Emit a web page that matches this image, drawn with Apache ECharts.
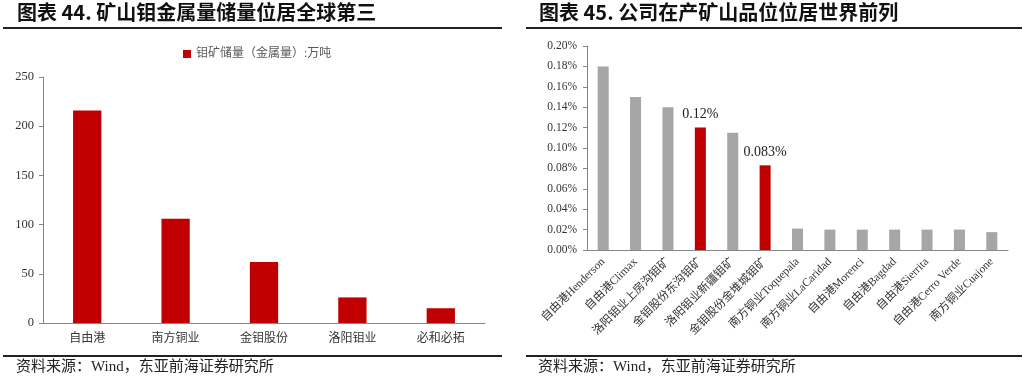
<!DOCTYPE html>
<html>
<head>
<meta charset="utf-8">
<script src="https://cdn.jsdelivr.net/npm/echarts@6/dist/echarts.min.js"></script>
<style>
  html, body { margin: 0; padding: 0; background: #fff; }
  #chart { width: 1025px; height: 376px; }
</style>
</head>
<body>
<div id="chart"></div>
<script>
// left: molybdenum reserves (metal content), 10k tonnes
const reserveCompanies = ['自由港', '南方铜业', '金钼股份', '洛阳钼业', '必和必拓'];
const reserveValues = [216, 106, 62, 26, 15];

// right: mine grade, %
const mineNames = [
  '自由港Henderson', '自由港Climax', '洛阳钼业上房沟钼矿', '金钼股份东沟钼矿',
  '洛阳钼业新疆钼矿', '金钼股份金堆城钼矿', '南方铜业Toquepala', '南方铜业LaCaridad',
  '自由港Morenci', '自由港Bagdad', '自由港Sierrita', '自由港Cerro Verde', '南方铜业Cuajone'
];
const mineGrades = [0.18, 0.15, 0.14, 0.12, 0.115, 0.083, 0.021, 0.02, 0.02, 0.02, 0.02, 0.02, 0.0175];
const highlighted = ['金钼股份东沟钼矿', '金钼股份金堆城钼矿'];
const highlightLabels = { '金钼股份东沟钼矿': '0.12%', '金钼股份金堆城钼矿': '0.083%' };

const RED = '#c00000';
const GRAY = '#a6a6a6';
const AXIS = '#868686';
const SERIF = '"Liberation Serif", "Noto Sans CJK SC", serif';
const HEAD = '"Noto Sans CJK SC", "Liberation Sans", sans-serif';

const chart = echarts.init(document.getElementById('chart'));

const titleText = (x, txt) => ({
  type: 'text', left: x, top: 2,
  style: { text: txt, font: 'bold 20px ' + HEAD, fill: '#111' }
});
const rule = (x1, x2, y) => ({
  type: 'line', shape: { x1, y1: y, x2, y2: y },
  style: { stroke: '#222', lineWidth: 2 }
});
const source = (x) => ({
  type: 'text', left: x, top: 360,
  style: { text: '资料来源：Wind，东亚前海证券研究所', font: '15px ' + SERIF, fill: '#222' }
});

chart.setOption({
  animation: false,
  graphic: [
    titleText(17, '图表 44. 矿山钼金属量储量位居全球第三'),
    titleText(539, '图表 45. 公司在产矿山品位位居世界前列'),
    rule(3, 502, 28), rule(526, 1022, 28),
    rule(3, 502, 356), rule(526, 1022, 356),
    source(16), source(538)
  ],
  legend: {
    left: 178, top: 43,
    icon: 'rect',
    itemWidth: 8, itemHeight: 8, itemGap: 4,
    textStyle: { fontSize: 12, color: '#595959', fontFamily: SERIF },
    data: ['钼矿储量（金属量）:万吨']
  },
  grid: [
    { left: 43, right: 540, top: 77, bottom: 53 },
    { left: 587, right: 17, top: 46, bottom: 126 }
  ],
  xAxis: [
    {
      type: 'category', gridIndex: 0, data: reserveCompanies,
      axisLine: { lineStyle: { color: AXIS } },
      axisTick: { show: false },
      axisLabel: { fontSize: 12, color: '#333', fontFamily: SERIF, margin: 10 }
    },
    {
      type: 'category', gridIndex: 1, data: mineNames,
      axisLine: { lineStyle: { color: AXIS } },
      axisTick: { show: false },
      axisLabel: { interval: 0, rotate: 45, fontSize: 11.5, color: '#333', fontFamily: SERIF, margin: 10 }
    }
  ],
  yAxis: [
    {
      type: 'value', gridIndex: 0, min: 0, max: 250, interval: 50,
      axisLine: { show: true, lineStyle: { color: AXIS } },
      axisTick: { show: true, length: 4, lineStyle: { color: AXIS } },
      splitLine: { show: false },
      axisLabel: { fontSize: 12.5, color: '#333', fontFamily: SERIF, margin: 9 }
    },
    {
      type: 'value', gridIndex: 1, min: 0, max: 0.2, interval: 0.02,
      axisLine: { show: true, lineStyle: { color: AXIS } },
      axisTick: { show: true, length: 4, lineStyle: { color: AXIS } },
      splitLine: { show: false },
      axisLabel: {
        fontSize: 11.5, color: '#333', fontFamily: SERIF, margin: 10,
        formatter: (v) => v.toFixed(2) + '%'
      }
    }
  ],
  series: [
    {
      name: '钼矿储量（金属量）:万吨',
      type: 'bar', xAxisIndex: 0, yAxisIndex: 0,
      data: reserveValues,
      barWidth: '32%',
      itemStyle: { color: RED }
    },
    {
      name: '品位',
      type: 'bar', xAxisIndex: 1, yAxisIndex: 1,
      barWidth: '34%',
      data: mineGrades.map((v, i) => {
        const name = mineNames[i];
        const hot = highlighted.includes(name);
        return {
          value: v,
          itemStyle: { color: hot ? RED : GRAY },
          label: hot ? {
            show: true, position: 'top', distance: 6,
            formatter: highlightLabels[name],
            fontSize: 14, color: '#222', fontFamily: SERIF
          } : { show: false }
        };
      })
    }
  ]
});
</script>
</body>
</html>
